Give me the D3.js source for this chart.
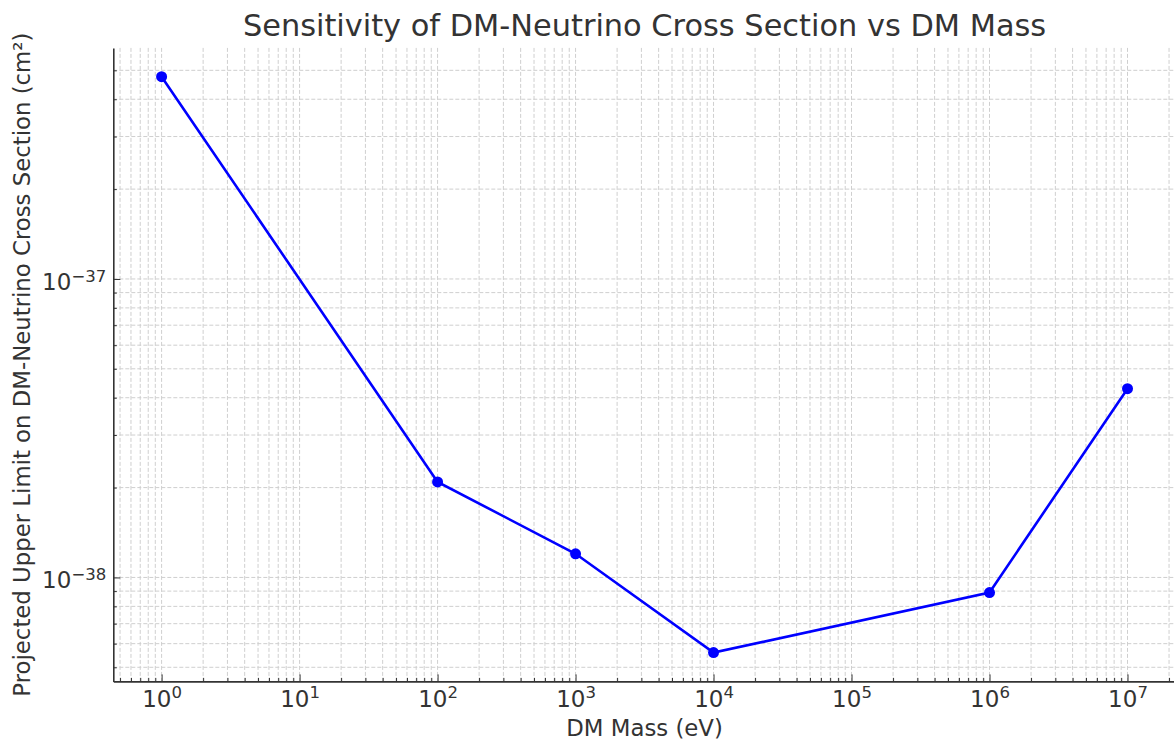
<!DOCTYPE html>
<html>
<head>
<script src="https://d3js.org/d3.v7.min.js"></script>
<title>Sensitivity vs DM Mass</title>
<style>
body {margin:0; background:#fff;}
text {font-family: "DejaVu Sans", sans-serif; fill:#333;}
.grid line {stroke:#cfcfcf; stroke-width:1; stroke-dasharray:4,2;}
.axis path, .axis line {stroke:#333;}
</style>
</head>
<body>
<div id="myDiv"></div>
<script>
// data
var masses = [1, 100, 1000, 10000, 1000000, 10000000];      // eV
var limits = [4.76e-37, 2.09e-38, 1.2e-38, 5.6e-39, 8.9e-39, 4.29e-38]; // cm^2
var xMajor = [1, 10, 100, 1e3, 1e4, 1e5, 1e6, 1e7];
var yMajor = [1e-38, 1e-37];

var W = 1174, H = 745;
var pLeft = 113.3, pRight = 1175.8, pTop = 47.9, pBottom = 681.4;

// matplotlib style 5% margins in log space
var lx = d3.extent(masses, function(d) {return Math.log10(d);});
var ly = d3.extent(limits, function(d) {return Math.log10(d);});
var mx = (lx[1]-lx[0])*0.05, my = (ly[1]-ly[0])*0.05;

var xScale = d3.scaleLog()
	.domain([Math.pow(10, lx[0]-mx), Math.pow(10, lx[1]+mx)])
	.range([pLeft, pRight]);
var yScale = d3.scaleLog()
	.domain([Math.pow(10, ly[0]-my), Math.pow(10, ly[1]+my)])
	.range([pBottom, pTop]);

// minor ticks: 2..9 of every decade inside the domain
function minors(scale) {
	var dom = scale.domain(), out = [];
	var e0 = Math.floor(Math.log10(dom[0])), e1 = Math.ceil(Math.log10(dom[1]));
	for (var e = e0; e <= e1; e++) {
		for (var k = 2; k <= 9; k++) {
			var v = k*Math.pow(10, e);
			if (v >= dom[0] && v <= dom[1]) out.push(v);
		}
	}
	return out;
}
var xMinor = minors(xScale), yMinor = minors(yScale);

var svg = d3.select("#myDiv").append("svg")
	.attr("width", W)
	.attr("height", H);

// grid
var grid = svg.append("g").attr("class", "grid");
grid.selectAll(".gx").data(xMajor.concat(xMinor)).enter()
	.append("line")
	.attr("x1", function(d){return xScale(d);})
	.attr("x2", function(d){return xScale(d);})
	.attr("y1", pTop).attr("y2", pBottom);
grid.selectAll(".gy").data(yMajor.concat(yMinor)).enter()
	.append("line")
	.attr("y1", function(d){return yScale(d);})
	.attr("y2", function(d){return yScale(d);})
	.attr("x1", pLeft).attr("x2", pRight);

function expo(v) {
	var e = Math.round(Math.log10(v));
	return e < 0 ? "\u2212" + (-e) : "" + e;
}
function supLabels(sel) {
	sel.selectAll(".tick text").each(function(d) {
		var t = d3.select(this);
		t.text(null);
		t.append("tspan").text("10");
		t.append("tspan").attr("dy", "-0.5em").attr("font-size", "0.72em").text(expo(d));
	});
}

// x axis
var xaxis = d3.axisBottom(xScale).tickValues(xMajor).tickSizeInner(-7).tickSizeOuter(0).tickPadding(9);
var gx = svg.append("g").attr("class", "axis")
	.attr("transform", "translate(0," + pBottom + ")")
	.call(xaxis);
gx.selectAll("text").attr("font-size", 23).attr("dy", "0.71em");
gx.select(".domain").attr("stroke-width", 1.6);
supLabels(gx);
var xminAxis = d3.axisBottom(xScale).tickValues(xMinor).tickSize(-3.5).tickFormat("");
svg.append("g").attr("class", "axis")
	.attr("transform", "translate(0," + pBottom + ")")
	.call(xminAxis)
	.select(".domain").remove();

// y axis
var yaxis = d3.axisLeft(yScale).tickValues(yMajor).tickSizeInner(-7).tickSizeOuter(0).tickPadding(7);
var gy = svg.append("g").attr("class", "axis")
	.attr("transform", "translate(" + pLeft + ",0)")
	.call(yaxis);
gy.selectAll("text").attr("font-size", 23).attr("dy", "0.45em");
gy.select(".domain").attr("stroke-width", 1.6);
supLabels(gy);
var yminAxis = d3.axisLeft(yScale).tickValues(yMinor).tickSize(-3.5).tickFormat("");
svg.append("g").attr("class", "axis")
	.attr("transform", "translate(" + pLeft + ",0)")
	.call(yminAxis)
	.select(".domain").remove();

// line + markers
var pts = masses.map(function(m, i) {return [m, limits[i]];});
var line = d3.line()
	.x(function(d){return xScale(d[0]);})
	.y(function(d){return yScale(d[1]);});
svg.append("path")
	.datum(pts)
	.attr("d", line)
	.attr("fill", "none")
	.attr("stroke", "#0000ff")
	.attr("stroke-width", 2.6);
svg.selectAll("circle").data(pts).enter()
	.append("circle")
	.attr("cx", function(d){return xScale(d[0]);})
	.attr("cy", function(d){return yScale(d[1]);})
	.attr("r", 5.5)
	.attr("fill", "#0000ff");

// titles
svg.append("text")
	.attr("x", (pLeft+pRight)/2).attr("y", 36)
	.attr("text-anchor", "middle")
	.attr("font-size", 30.4)
	.text("Sensitivity of DM-Neutrino Cross Section vs DM Mass");
svg.append("text")
	.attr("x", (pLeft+pRight)/2).attr("y", 736)
	.attr("text-anchor", "middle")
	.attr("font-size", 22.8)
	.text("DM Mass (eV)");
svg.append("text")
	.attr("transform", "translate(30," + ((pTop+pBottom)/2) + ") rotate(-90)")
	.attr("text-anchor", "middle")
	.attr("font-size", 22.8)
	.text("Projected Upper Limit on DM-Neutrino Cross Section (cm\u00b2)");
</script>
</body>
</html>
